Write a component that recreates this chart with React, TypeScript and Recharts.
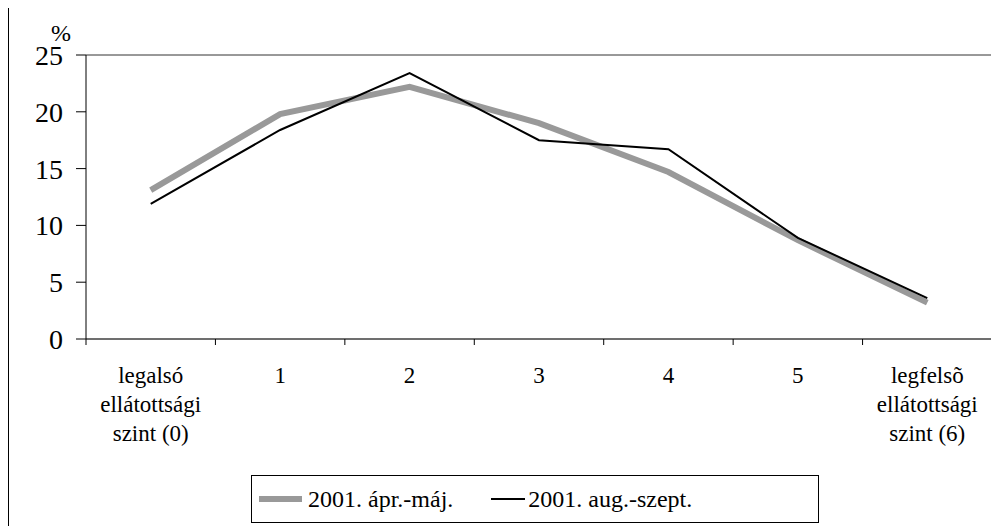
import { CartesianGrid, Legend, Line, LineChart, XAxis, YAxis } from "recharts";

const categories = [
  "legalsó\nellátottsági\nszint (0)",
  "1",
  "2",
  "3",
  "4",
  "5",
  "legfelsõ\nellátottsági\nszint (6)",
];
const aprMaj = [13.1, 19.8, 22.2, 19.0, 14.7, 8.7, 3.2];
const augSzept = [11.9, 18.4, 23.4, 17.5, 16.7, 8.9, 3.6];
const yTicks = [0, 5, 10, 15, 20, 25];
const seriesNames = ["2001. ápr.-máj.", "2001. aug.-szept."];

const data = categories.map((label, i) => ({
  label,
  apr: aprMaj[i],
  aug: augSzept[i],
}));

const FONT = "Liberation Serif";
const W = 990;
const H = 518;
const Y_W = 77;
const M_RIGHT = 7;
const M_TOP = 47;
const X_H = 187;
const HALF = (W - Y_W - M_RIGHT) / categories.length / 2;

function XTick(props: any) {
  const { x, y, payload, index } = props;
  const lines = String(payload.value).split("\n");
  return (
    <g>
      <line x1={x - HALF} x2={x - HALF} y1={y} y2={y + 6} stroke="#000" />
      {index === categories.length - 1 && (
        <line x1={x + HALF} x2={x + HALF} y1={y} y2={y + 6} stroke="#000" />
      )}
      <text x={x} y={y + 44} textAnchor="middle" fontFamily={FONT} fontSize={23} fill="#000">
        {lines.map((l, i) => (
          <tspan key={i} x={x} dy={i === 0 ? 0 : 29}>
            {l}
          </tspan>
        ))}
      </text>
    </g>
  );
}

function LegendBox(props: any) {
  const items = [...(props.payload || [])].sort(
    (a: any, b: any) => seriesNames.indexOf(a.value) - seriesNames.indexOf(b.value)
  );
  return (
    <div
      style={{
        position: "absolute",
        left: 242,
        top: 467,
        width: 566,
        height: 46,
        border: "1px solid #000",
        display: "flex",
        alignItems: "center",
        fontFamily: FONT,
        fontSize: 24,
        color: "#000",
        whiteSpace: "nowrap",
      }}
    >
      {items.map((it: any, i: number) => (
        <div key={i} style={{ display: "flex", alignItems: "center", marginLeft: i === 0 ? 7 : 38 }}>
          <span
            style={{
              display: "inline-block",
              width: i === 0 ? 43 : 34,
              height: i === 0 ? 6 : 2,
              background: it.color,
              marginRight: i === 0 ? 6 : 3,
            }}
          />
          <span>{it.value}</span>
        </div>
      ))}
    </div>
  );
}

export default function App() {
  return (
    <div
      style={{
        marginTop: -1,
        width: W,
        height: H,
        borderLeft: "1px solid #000",
        borderTop: "1px solid #000",
        position: "relative",
        background: "#fff",
        fontFamily: FONT,
      }}
    >
      <style>{`body{overflow:hidden}`}</style>
      <LineChart width={W} height={H} data={data} margin={{ top: M_TOP, right: M_RIGHT, bottom: 0, left: 0 }}>
        <CartesianGrid vertical={false} stroke="#333" />
        <XAxis
          dataKey="label"
          height={X_H}
          interval={0}
          padding={{ left: HALF, right: HALF }}
          tickLine={false}
          tickSize={0}
          tickMargin={0}
          axisLine={{ stroke: "#444" }}
          tick={<XTick />}
        />
        <YAxis
          yAxisId="left"
          width={Y_W}
          domain={[0, 25]}
          ticks={yTicks}
          interval={0}
          tickSize={10}
          tickMargin={13}
          axisLine={{ stroke: "#000" }}
          tickLine={{ stroke: "#000" }}
          tick={{ fontFamily: FONT, fontSize: 28, fill: "#000" }}
          label={{
            content: (p: any) => (
              <text
                x={p.viewBox.x + 52}
                y={p.viewBox.y - 14}
                textAnchor="middle"
                fontFamily={FONT}
                fontSize={24}
                fill="#000"
              >
                %
              </text>
            ),
          }}
        />
        <YAxis
          yAxisId="right"
          orientation="right"
          width={0}
          domain={[0, 25]}
          tick={false}
          tickLine={false}
          axisLine={{ stroke: "#888" }}
        />
        <Legend content={<LegendBox />} wrapperStyle={{ left: 0, top: 0, width: 0, height: 0 }} />
        <Line
          yAxisId="left"
          name={seriesNames[0]}
          dataKey="apr"
          stroke="#999"
          strokeWidth={6}
          dot={false}
          isAnimationActive={false}
        />
        <Line
          yAxisId="left"
          name={seriesNames[1]}
          dataKey="aug"
          stroke="#000"
          strokeWidth={2}
          dot={false}
          isAnimationActive={false}
        />
      </LineChart>
    </div>
  );
}
